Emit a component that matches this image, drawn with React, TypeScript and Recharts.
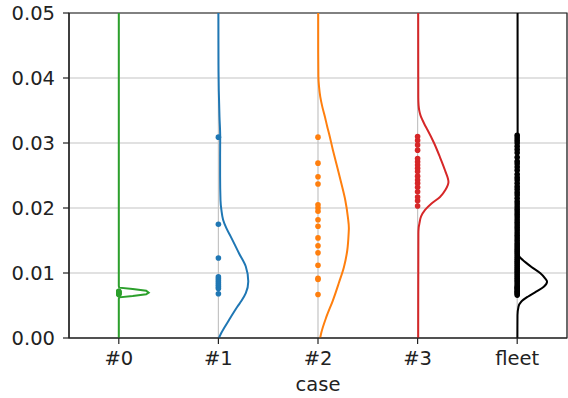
import React from 'react';
import {
  ComposedChart,
  Line,
  Scatter,
  XAxis,
  YAxis,
  CartesianGrid,
  ReferenceArea,
} from 'recharts';

// Categories and their colours
const CASES = ['#0', '#1', '#2', '#3', 'fleet'];
const COLORS = ['#2ca02c', '#1f77b4', '#ff7f0e', '#d62728', '#000000'];
const Y_TICKS = [0, 0.01, 0.02, 0.03, 0.04, 0.05];

// Observed values per case (strip points)
const case0Values = [0.0067, 0.0068, 0.0069, 0.007, 0.0071, 0.0072];
const case1Values = [0.0068, 0.0076, 0.0079, 0.0082, 0.0085, 0.0088, 0.0091, 0.0094, 0.0123, 0.0175, 0.0309];
const case2Values = [
  0.0067, 0.009, 0.0092, 0.0112, 0.0131, 0.0142, 0.0154, 0.0172, 0.0182, 0.0195, 0.02, 0.0205, 0.0237,
  0.0248, 0.0269, 0.0309,
];
const case3Values = [
  0.0203, 0.0211, 0.0217, 0.0225, 0.0232, 0.0238, 0.0243, 0.0249, 0.0256, 0.0261, 0.0266, 0.0271,
  0.0276, 0.0289, 0.0297, 0.0304, 0.031,
];
const fleetValues = [
  0.0312, 0.0308, 0.0304, 0.03, 0.0295, 0.029, 0.0285, 0.0278, 0.0272, 0.0268, 0.0263, 0.0258, 0.0252,
  0.0247, 0.0243, 0.0238, 0.0233, 0.0229, 0.0224, 0.022, 0.0215, 0.021, 0.0206, 0.0202, 0.0198, 0.0194,
  0.019, 0.0186, 0.0182, 0.0178, 0.0174, 0.017, 0.0166, 0.0162, 0.0158, 0.0154, 0.015, 0.0146, 0.0143,
  0.014, 0.0137, 0.0134, 0.0131, 0.0128, 0.0125, 0.0122, 0.0119, 0.0116, 0.0113, 0.011, 0.0107, 0.0104,
  0.0101, 0.0098, 0.0095, 0.0092, 0.0089, 0.0086, 0.0083, 0.008, 0.0078, 0.0076, 0.0074, 0.0072, 0.007,
  0.0068, 0.0066,
];

// Half-violin density outlines: [value, width in category units]
const case0Density: [number, number][] = [
  [0, 0], [0.006, 0], [0.00626, 0.005], [0.00646, 0.14], [0.00672, 0.275], [0.00697, 0.3],
  [0.00728, 0.275], [0.00754, 0.14], [0.00774, 0.005], [0.008, 0], [0.05, 0],
];
const case1Density: [number, number][] = [
  [0, 0.005], [0.0008, 0.03], [0.0028, 0.108], [0.0048, 0.19], [0.0058, 0.235], [0.0069, 0.275],
  [0.0087, 0.3], [0.011, 0.275], [0.013, 0.208], [0.0156, 0.124], [0.0169, 0.08], [0.0182, 0.047],
  [0.0197, 0.03], [0.0212, 0.021], [0.025, 0.017], [0.028, 0.017], [0.031, 0.018], [0.034, 0.011],
  [0.038, 0.004], [0.042, 0.001], [0.05, 0],
];
const case2Density: [number, number][] = [
  [0, 0.022], [0.0008, 0.033], [0.0032, 0.083], [0.0058, 0.15], [0.0085, 0.21], [0.0109, 0.26],
  [0.0135, 0.294], [0.0162, 0.308], [0.0169, 0.31], [0.0186, 0.3], [0.0212, 0.274], [0.0238, 0.234],
  [0.0263, 0.193], [0.0289, 0.15], [0.0315, 0.11], [0.0325, 0.093], [0.034, 0.07], [0.0356, 0.043],
  [0.0371, 0.023], [0.0387, 0.01], [0.0402, 0.004], [0.044, 0.002], [0.05, 0.002],
];
const case3Density: [number, number][] = [
  [0, 0.006], [0.016, 0.008], [0.017, 0.011], [0.0176, 0.018], [0.0187, 0.035], [0.0197, 0.075],
  [0.0207, 0.14], [0.0217, 0.225], [0.0228, 0.28], [0.024, 0.31], [0.0258, 0.275], [0.0278, 0.225],
  [0.03, 0.165], [0.032, 0.1], [0.0327, 0.075], [0.0335, 0.05], [0.0342, 0.03], [0.0349, 0.018],
  [0.0358, 0.01], [0.037, 0.007], [0.05, 0.006],
];
const fleetDensity: [number, number][] = [
  [0, 0.002], [0.0035, 0.003], [0.00482, 0.013], [0.00558, 0.04], [0.00635, 0.106], [0.00712, 0.19],
  [0.00789, 0.267], [0.00866, 0.3], [0.00918, 0.28], [0.00995, 0.233], [0.01097, 0.14], [0.012, 0.056],
  [0.0125, 0.023], [0.0135, 0.006], [0.05, 0.004],
];

const VALUES = [case0Values, case1Values, case2Values, case3Values, fleetValues];
const DENSITIES = [case0Density, case1Density, case2Density, case3Density, fleetDensity];

const FONT = '"DejaVu Sans", sans-serif';
const INK = '#222222';

const series = CASES.map((name, i) => ({
  name,
  color: COLORS[i],
  points: VALUES[i].map((v) => ({ x: i, y: v })),
  outline: DENSITIES[i].map(([v, w]) => ({ x: i + w, y: v })),
  curve: i === 0 ? 'linear' : 'monotoneY',
}));

const tickStyle = { fill: INK, fontSize: 19.5, fontFamily: FONT };

export default function App() {
  return (
    <div style={{ position: 'absolute', left: 0, top: 0, width: 568, height: 398, background: '#fff' }}>
      <ComposedChart width={568} height={398} margin={{ top: 13, right: 1, bottom: 0, left: 9 }}>
        <CartesianGrid stroke="#c4c4c4" strokeWidth={1.2} fill="none" />
        <XAxis
          type="number"
          dataKey="x"
          domain={[-0.5, 4.5]}
          allowDataOverflow
          ticks={[0, 1, 2, 3, 4]}
          tickFormatter={(i: number) => CASES[i] ?? ''}
          height={60}
          tickSize={6}
          tickMargin={7}
          axisLine={{ stroke: INK, strokeWidth: 1.2 }}
          tickLine={{ stroke: INK, strokeWidth: 1.2 }}
          tick={tickStyle}
          label={{ value: 'case', position: 'insideBottom', offset: 7, fill: INK, fontSize: 19.5, fontFamily: FONT }}
        />
        <YAxis
          type="number"
          dataKey="y"
          domain={[0, 0.05]}
          allowDataOverflow
          ticks={Y_TICKS}
          tickFormatter={(v: number) => v.toFixed(2)}
          width={60}
          tickSize={6}
          tickMargin={8}
          axisLine={{ stroke: INK, strokeWidth: 1.2 }}
          tickLine={{ stroke: INK, strokeWidth: 1.2 }}
          tick={tickStyle}
        />
        {series.map((s) => (
          <Scatter
            key={`pts-${s.name}`}
            name={s.name}
            data={s.points}
            fill={s.color}
            isAnimationActive={false}
            shape={(p: any) => <circle cx={p.cx} cy={p.cy} r={2.8} fill={s.color} />}
          />
        ))}
        {series.map((s) => (
          <Line
            key={`kde-${s.name}`}
            data={s.outline}
            dataKey="y"
            type={s.curve as any}
            stroke={s.color}
            strokeWidth={2}
            dot={false}
            activeDot={false}
            isAnimationActive={false}
          />
        ))}
        <ReferenceArea x1={-0.5} x2={4.5} y1={0} y2={0.05} fill="none" stroke={INK} strokeWidth={1.2} />
      </ComposedChart>
    </div>
  );
}
